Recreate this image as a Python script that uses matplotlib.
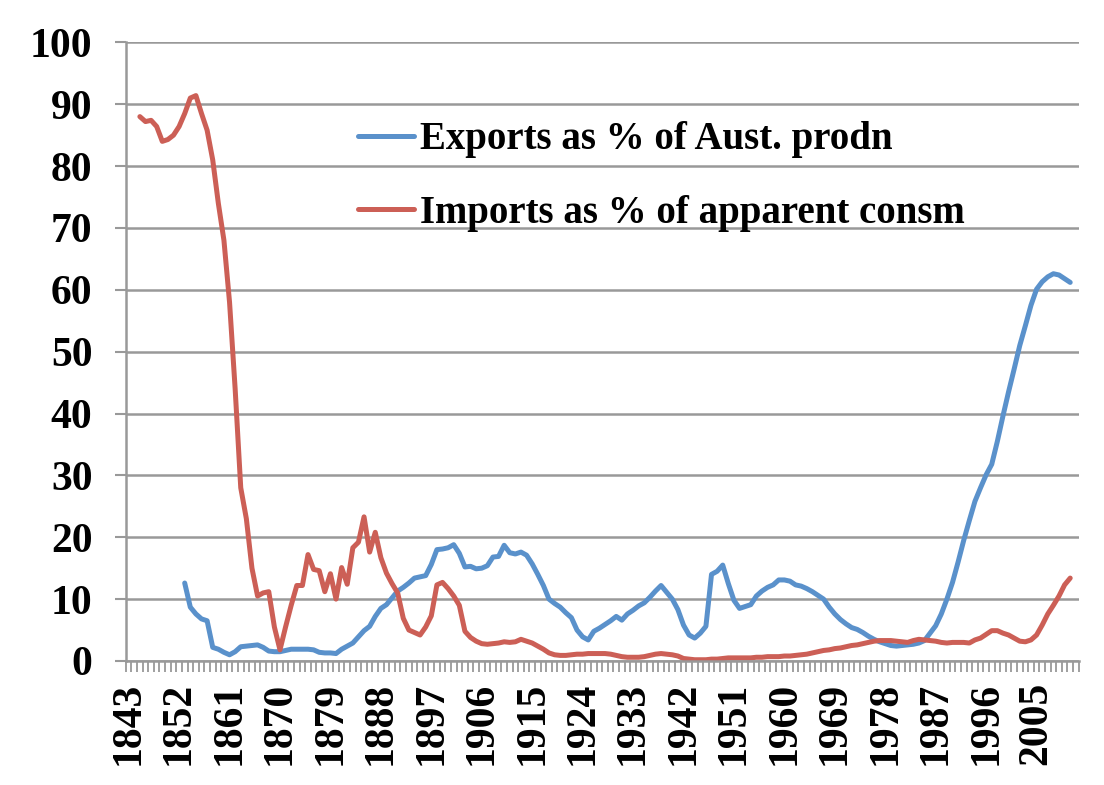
import numpy as np
import matplotlib
matplotlib.use("Agg")
import matplotlib.pyplot as plt
from matplotlib.ticker import MultipleLocator

# exports as % of Australian production, 1853-2011
exports = [
    12.6, 8.7, 7.6, 6.8, 6.5, 2.2, 1.9, 1.4, 1.0, 1.5,
    2.3, 2.4, 2.5, 2.6, 2.2, 1.6, 1.5, 1.5, 1.7, 1.9,
    1.9, 1.9, 1.9, 1.8, 1.4, 1.3, 1.3, 1.2, 1.9, 2.4,
    2.9, 3.9, 4.9, 5.6, 7.2, 8.5, 9.1, 10.2, 11.3, 11.9,
    12.6, 13.4, 13.6, 13.8, 15.6, 18.0, 18.1, 18.3, 18.8, 17.4,
    15.2, 15.3, 14.9, 15.0, 15.4, 16.8, 16.9, 18.7, 17.5, 17.3,
    17.6, 17.1, 15.7, 14.0, 12.2, 10.0, 9.3, 8.7, 7.8, 7.0,
    5.0, 3.9, 3.4, 4.8, 5.3, 5.9, 6.5, 7.2, 6.6, 7.6,
    8.2, 8.9, 9.4, 10.3, 11.3, 12.2, 11.1, 10.0, 8.3, 5.8,
    4.2, 3.7, 4.5, 5.6, 14.0, 14.5, 15.5, 12.5, 9.8, 8.5,
    8.8, 9.1, 10.5, 11.3, 11.9, 12.3, 13.1, 13.1, 12.9, 12.3,
    12.1, 11.7, 11.2, 10.6, 10.0, 8.7, 7.6, 6.7, 6.0, 5.4,
    5.1, 4.6, 4.0, 3.5, 3.1, 2.8, 2.5, 2.4, 2.5, 2.6,
    2.7, 2.9, 3.3, 4.5, 5.7, 7.6, 10.0, 12.7, 16.0, 19.5,
    22.7, 25.8, 28.0, 30.1, 31.8, 35.5, 39.6, 43.5, 47.2, 51.0,
    54.2, 57.5, 60.1, 61.3, 62.1, 62.6, 62.4, 61.8, 61.2,
]
exp_years = np.arange(1853, 1853 + len(exports))

# imports as % of apparent consumption, 1845-2011
imports = [
    88.0, 87.2, 87.4, 86.4, 84.0, 84.3, 85.0, 86.4, 88.5, 91.0,
    91.4, 88.5, 85.8, 81.0, 74.0, 68.0, 58.0, 44.0, 28.0, 23.0,
    15.0, 10.5, 11.0, 11.2, 5.5, 1.8, 5.5, 9.0, 12.2, 12.2,
    17.2, 14.8, 14.6, 11.2, 14.1, 10.0, 15.1, 12.4, 18.3, 19.2,
    23.3, 17.6, 20.8, 16.7, 14.2, 12.5, 11.0, 6.9, 5.0, 4.6,
    4.2, 5.5, 7.3, 12.3, 12.7, 11.7, 10.5, 9.0, 4.8, 3.8,
    3.2, 2.8, 2.7, 2.8, 2.9, 3.1, 3.0, 3.1, 3.5, 3.2,
    2.9, 2.4, 1.9, 1.3, 1.0, 0.9, 0.9, 1.0, 1.1, 1.1,
    1.2, 1.2, 1.2, 1.2, 1.1, 0.9, 0.7, 0.6, 0.6, 0.6,
    0.7, 0.9, 1.1, 1.2, 1.1, 1.0, 0.8, 0.4, 0.3, 0.2,
    0.2, 0.2, 0.3, 0.3, 0.4, 0.5, 0.5, 0.5, 0.5, 0.5,
    0.6, 0.6, 0.7, 0.7, 0.7, 0.8, 0.8, 0.9, 1.0, 1.1,
    1.3, 1.5, 1.7, 1.8, 2.0, 2.1, 2.3, 2.5, 2.6, 2.8,
    3.0, 3.2, 3.3, 3.3, 3.3, 3.2, 3.1, 3.0, 3.3, 3.5,
    3.4, 3.3, 3.2, 3.0, 2.9, 3.0, 3.0, 3.0, 2.9, 3.4,
    3.7, 4.3, 4.9, 4.9, 4.5, 4.2, 3.7, 3.2, 3.1, 3.4,
    4.2, 5.8, 7.6, 9.0, 10.5, 12.3, 13.4,
]
imp_years = np.arange(1845, 1845 + len(imports))

first_year, last_year = 1843, 2012
label_years = np.arange(first_year, last_year + 1, 9)

plt.rcParams['font.family'] = ['Liberation Serif', 'DejaVu Serif']
plt.rcParams['font.weight'] = 'bold'

grey = '#999999'
fig = plt.figure(figsize=(11.04, 7.85), dpi=100)
ax = fig.add_axes([0.114, 0.158, 0.863, 0.788])

ax.plot(exp_years, exports, color='#5a91cb', lw=3.6, solid_joinstyle='round',
        solid_capstyle='round', label='Exports as % of Aust. prodn')
ax.plot(imp_years, imports, color='#cc5f56', lw=3.6, solid_joinstyle='round',
        solid_capstyle='round', label='Imports as % of apparent consm')

ax.set_xlim(first_year - 0.5, last_year + 0.5)
ax.set_ylim(0, 100)
ax.yaxis.set_major_locator(MultipleLocator(10))
ax.grid(axis='y', color=grey, lw=1.8)
ax.set_axisbelow(True)

ax.set_xticks(label_years)
ax.set_xticklabels([str(y) for y in label_years], rotation=90, fontsize=30,
                   fontweight='bold')
ax.set_xticks(np.arange(first_year - 0.5, last_year + 1), minor=True)
ax.tick_params(axis='x', which='major', length=0, pad=15)
ax.tick_params(axis='x', which='minor', length=8, width=1.3, color=grey)
ax.tick_params(axis='y', length=8, width=1.5, color=grey, pad=16, labelsize=30)
for lab in ax.get_yticklabels():
    lab.set_fontweight('bold')

for s in ['top', 'right']:
    ax.spines[s].set_visible(False)
for s in ['left', 'bottom']:
    ax.spines[s].set_color(grey)
    ax.spines[s].set_linewidth(1.8)

ax.legend(loc='center left', bbox_to_anchor=(0.324, 0.775),
          bbox_transform=fig.transFigure, frameon=False,
          prop={'weight': 'bold', 'size': 28}, handlelength=1.45,
          handletextpad=0.15, labelspacing=0.95, borderpad=0, borderaxespad=0)

fig.savefig('out.png', dpi=100)
